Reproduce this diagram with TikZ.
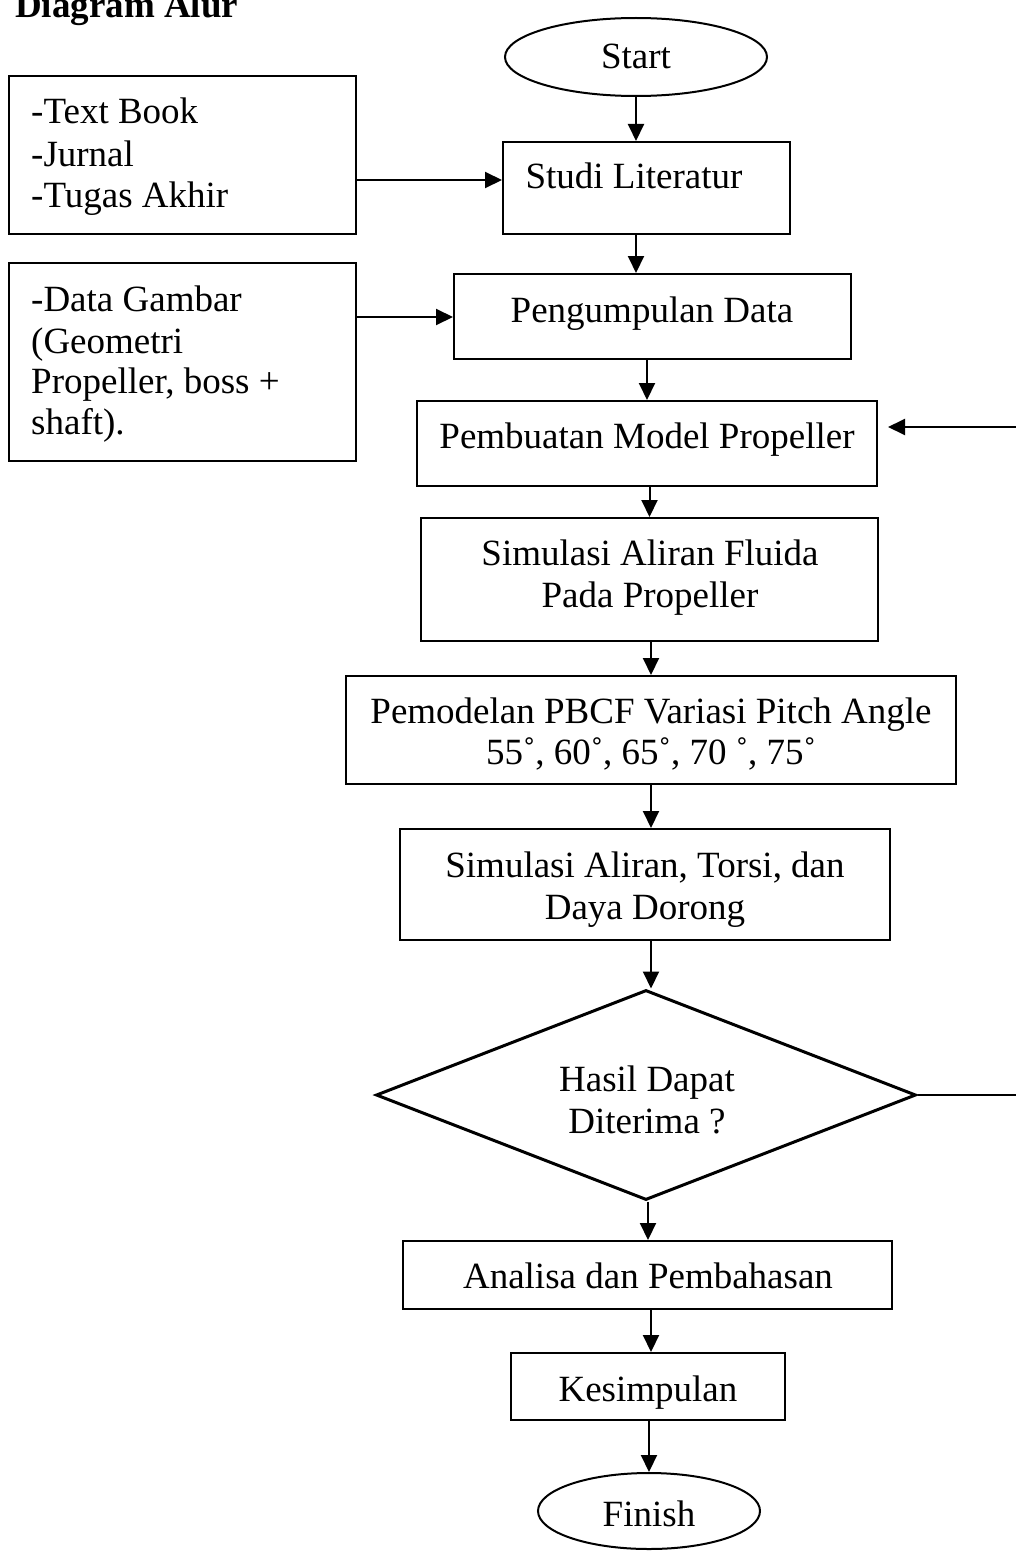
\documentclass[tikz,border=0pt]{standalone}
\usepackage{fontspec}
\setmainfont{Liberation Serif}
\usetikzlibrary{arrows.meta,shapes.geometric}
\newcommand\fsz{\fontsize{37}{41.5}\selectfont}
\begin{document}
\begin{tikzpicture}[x=1pt,y=-1pt,
  box/.style={draw,line width=2pt,rectangle,inner sep=0pt},
  oval/.style={draw,line width=2pt,ellipse,inner sep=0pt},
  txt/.style={font=\fsz,anchor=base,inner sep=0pt},
  ltxt/.style={font=\fsz,anchor=base west,inner sep=0pt},
  arr/.style={line width=2pt,-{Triangle[length=17pt,width=16pt]}},
  ln/.style={line width=2pt}]
\useasboundingbox (0,0) rectangle (1016,1552);
\clip (0,0) rectangle (1016,1552);
\fill[white] (0,0) rectangle (1016,1552);

\node[ltxt,font=\fsz\bfseries] (title) at (15,18) {Diagram Alur};

% main column shapes
\node[oval,minimum width=262pt,minimum height=78pt] (start) at (636,57) {};
\node[txt] (tstart) at (636,69) {Start};

\node[box,minimum width=287pt,minimum height=92pt] (studi) at (646.5,188) {};
\node[txt] (tstudi) at (634,188) {Studi Literatur};

\node[box,minimum width=397pt,minimum height=85pt] (kumpul) at (652.5,316.5) {};
\node[txt] (tkumpul) at (652,322) {Pengumpulan Data};

\node[box,minimum width=460pt,minimum height=85pt] (model) at (647,443.5) {};
\node[txt] (tmodel) at (647,448) {Pembuatan Model Propeller};

\node[box,minimum width=457pt,minimum height=123pt] (simfl) at (649.5,579.5) {};
\node[txt] (tsimfl1) at (650,565) {Simulasi Aliran Fluida};
\node[txt] (tsimfl2) at (650,607) {Pada Propeller};

\node[box,minimum width=610pt,minimum height=108pt] (pbcf) at (651,730) {};
\node[txt] (tpbcf1) at (651,723) {Pemodelan PBCF Variasi Pitch Angle};
\node[txt] (tpbcf2) at (651,764) {55˚, 60˚, 65˚, 70 ˚, 75˚};

\node[box,minimum width=490pt,minimum height=111pt] (simtor) at (645,884.5) {};
\node[txt] (tsimtor1) at (645,877) {Simulasi Aliran, Torsi, dan};
\node[txt] (tsimtor2) at (645,919) {Daya Dorong};

\node[diamond,draw,line width=3pt,inner sep=0pt,minimum width=540pt,minimum height=210pt] (dia) at (646,1095) {};
\node[txt] (tdia1) at (647,1091) {Hasil Dapat};
\node[txt] (tdia2) at (647,1133) {Diterima ?};

\node[box,minimum width=489pt,minimum height=68pt] (analisa) at (647.5,1275) {};
\node[txt] (tanalisa) at (648,1288) {Analisa dan Pembahasan};

\node[box,minimum width=274pt,minimum height=67pt] (kesim) at (648,1386.5) {};
\node[txt] (tkesim) at (648,1401) {Kesimpulan};

\node[oval,minimum width=222pt,minimum height=76pt] (finish) at (649,1511) {};
\node[txt] (tfinish) at (649,1526) {Finish};

% left boxes
\node[box,minimum width=347pt,minimum height=158pt] (lit1) at (182.5,155) {};
\node[ltxt] (tl1a) at (31,124) {-Text Book};
\node[ltxt] (tl1b) at (31,166) {-Jurnal};
\node[ltxt] (tl1c) at (31,207) {-Tugas Akhir};

\node[box,minimum width=347pt,minimum height=198pt] (lit2) at (182.5,362) {};
\node[ltxt] (tl2a) at (31,311) {-Data Gambar};
\node[ltxt] (tl2b) at (31,353) {(Geometri};
\node[ltxt] (tl2c) at (31,393) {Propeller, boss +};
\node[ltxt] (tl2d) at (31,434) {shaft).};

% feedback ends at the page edge
\coordinate (fb1) at (1016,1095);
\coordinate (fb2) at (1016,427);
\coordinate (fbtip) at (888,427);

% connectors
\draw[arr] (start.south) -- (start.south |- studi.north);
\draw[arr] (studi.south -| start.south) -- (kumpul.north -| start.south);
\draw[arr] (kumpul.south -| model.north) -- (model.north);
\draw[arr] (model.south -| simfl.north) -- (simfl.north);
\draw[arr] (simfl.south -| pbcf.north) -- (pbcf.north);
\draw[arr] (pbcf.south) -- (pbcf.south |- simtor.north);
\draw[arr] (simtor.south -| pbcf.south) -- (pbcf.south |- dia.north);
\draw[arr] (dia.south -| kesim.north) -- (analisa.north -| kesim.north);
\draw[arr] (analisa.south -| pbcf.south) -- (kesim.north -| pbcf.south);
\draw[arr] (kesim.south -| finish.north) -- (finish.north);
\draw[arr] ([yshift=-25pt]lit1.east) -- ([yshift=-25pt]lit1.east -| studi.west);
\draw[arr] ([yshift=45pt]lit2.east) -- ([yshift=45pt]lit2.east -| kumpul.west);
\draw[ln] (dia.east) -- (fb1);
\draw[arr] (fb2) -- (fbtip);
\end{tikzpicture}
\end{document}
